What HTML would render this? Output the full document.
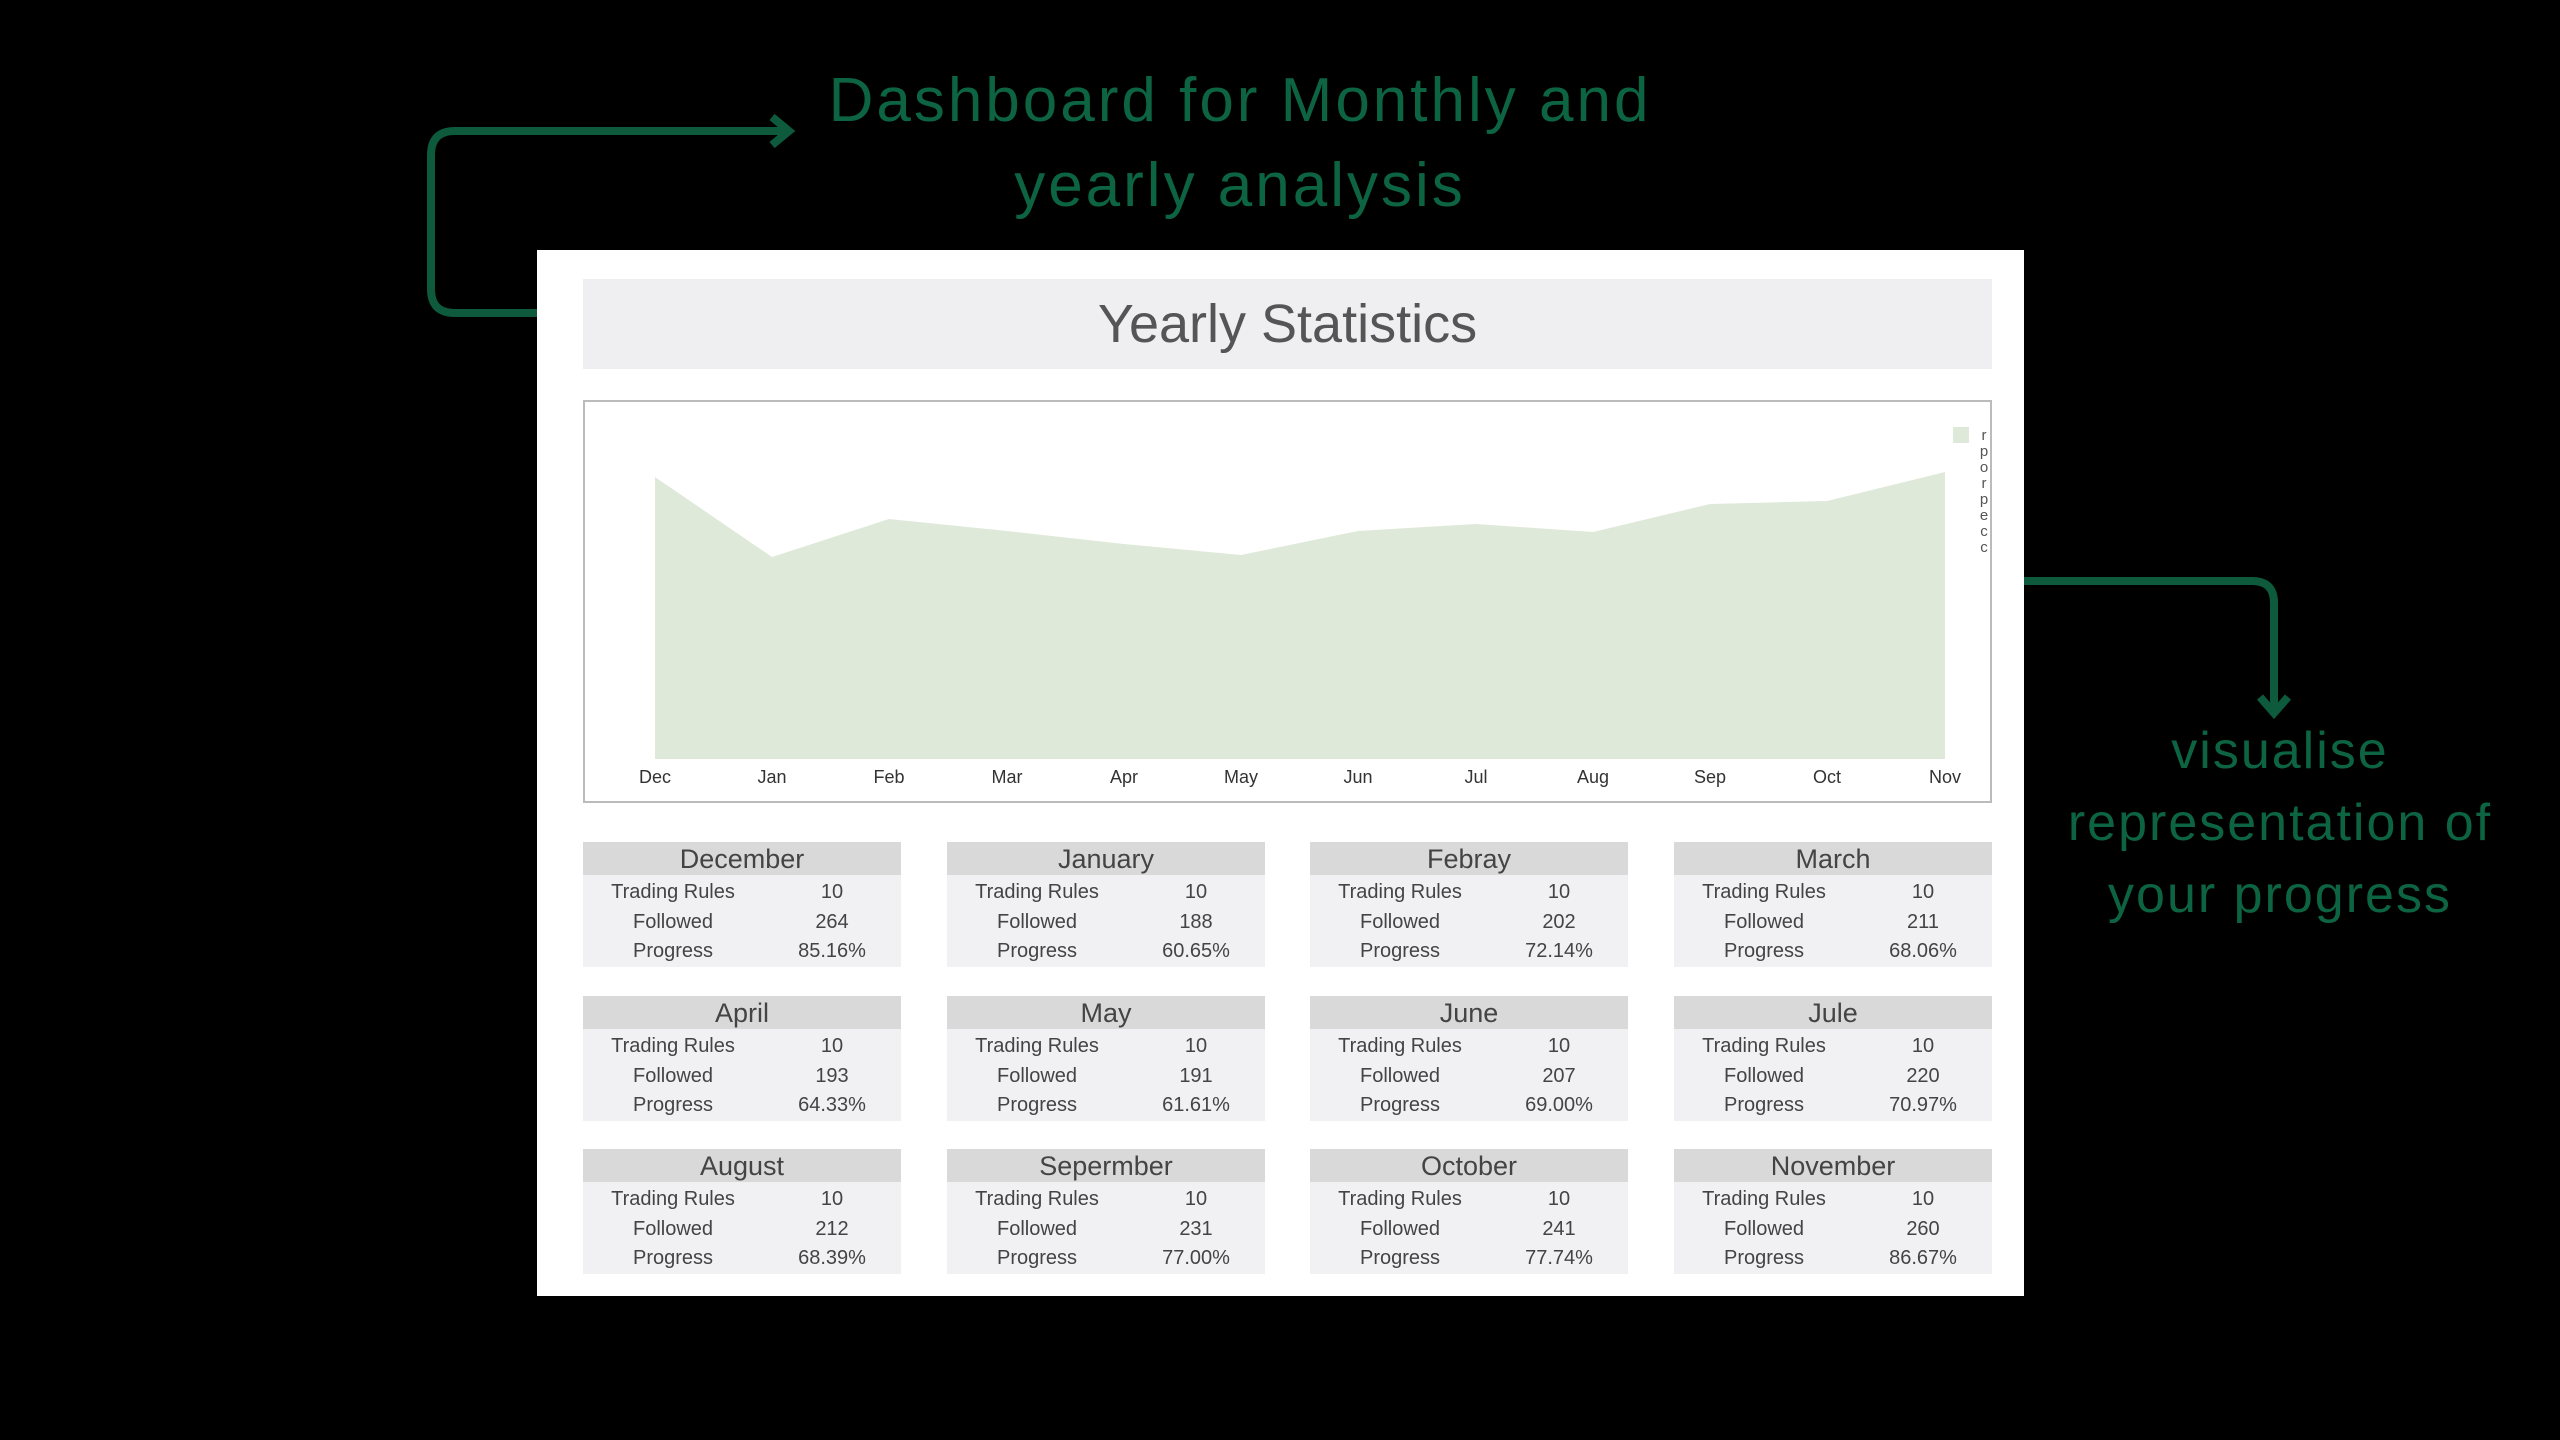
<!DOCTYPE html>
<html><head><meta charset="utf-8"><style>
body{margin:0;width:2560px;height:1440px;background:#000;position:relative;overflow:hidden;font-family:"Liberation Sans",sans-serif}
.abs{position:absolute}
.g{color:#0d6442;font-size:62px;text-align:center;line-height:85px;letter-spacing:3px}
.panel{left:537px;top:250px;width:1487px;height:1046px;background:#fff}
.title{left:583px;top:279px;width:1409px;height:90px;background:#efeef0;color:#555;font-size:54px;text-align:center;line-height:90px}
.chart{left:583px;top:400px;width:1405px;height:399px;border:2px solid #bbb;background:#fff}
.card{position:absolute;width:318px;height:125px;background:#f1f0f2;color:#444}
.card .h{height:33px;background:#d9d9d9;font-size:27px;text-align:center;line-height:35px;color:#444}
.card .r{position:relative;height:29.5px;font-size:20px}
.card .r span{position:absolute;top:6px;transform:translateX(-50%);white-space:nowrap}
</style></head><body>
<div class="abs g" style="left:640px;top:58px;width:1200px">Dashboard for Monthly and<br>yearly analysis</div>
<div class="abs g" style="left:1960px;top:715px;width:640px;font-size:52px;line-height:72px;letter-spacing:2px">visualise<br>representation of<br>your progress</div>
<svg class="abs" style="left:0;top:0" width="2560" height="1440">
<path d="M540 313 H455 Q431 313 431 289 V155 Q431 131 455 131 H786" fill="none" stroke="#0e5a3c" stroke-width="8"/>
<path d="M772 117 L789 131 L772 145" fill="none" stroke="#0e5a3c" stroke-width="8"/>
<path d="M2020 581 H2252 Q2274 581 2274 603 V710" fill="none" stroke="#0e5a3c" stroke-width="8"/>
<path d="M2260 697 L2274 713 L2288 697" fill="none" stroke="#0e5a3c" stroke-width="8"/>
</svg>
<div class="abs panel"></div>
<div class="abs title">Yearly Statistics</div>
<div class="abs chart"></div>
<svg class="abs" style="left:0;top:0" width="2560" height="1440">
<polygon fill="#dfe9d9" points="655,759 655,477 772,557 889,519 1007,531 1124,544 1241,555 1358,531 1476,524 1593,532 1710,504 1827,501 1945,472 1945,759"/>
<rect x="1953" y="427" width="16" height="16" fill="#dfe9d9"/>
<g font-size="18" fill="#333" text-anchor="middle" font-family="Liberation Sans">
<text x="655" y="783">Dec</text><text x="772" y="783">Jan</text><text x="889" y="783">Feb</text><text x="1007" y="783">Mar</text><text x="1124" y="783">Apr</text><text x="1241" y="783">May</text><text x="1358" y="783">Jun</text><text x="1476" y="783">Jul</text><text x="1593" y="783">Aug</text><text x="1710" y="783">Sep</text><text x="1827" y="783">Oct</text><text x="1945" y="783">Nov</text>
</g>
<g font-size="15" fill="#555" text-anchor="middle" font-family="Liberation Sans">
<text x="1984" y="440">r</text><text x="1984" y="456">p</text><text x="1984" y="472">o</text><text x="1984" y="488">r</text><text x="1984" y="504">p</text><text x="1984" y="520">e</text><text x="1984" y="536">c</text><text x="1984" y="552">c</text>
</g>
</svg>
<div id="cards"></div>
<script>
var d=[["December",264,"85.16%"],["January",188,"60.65%"],["Febray",202,"72.14%"],["March",211,"68.06%"],["April",193,"64.33%"],["May",191,"61.61%"],["June",207,"69.00%"],["Jule",220,"70.97%"],["August",212,"68.39%"],["Sepermber",231,"77.00%"],["October",241,"77.74%"],["November",260,"86.67%"]];
var xs=[583,947,1310,1674],ys=[842,996,1149],h="";
d.forEach(function(c,i){
h+='<div class="card" style="left:'+xs[i%4]+'px;top:'+ys[Math.floor(i/4)]+'px"><div class="h">'+c[0]+'</div>'+
'<div class="r"><span style="left:90px">Trading Rules</span><span style="left:249px">10</span></div>'+
'<div class="r"><span style="left:90px">Followed</span><span style="left:249px">'+c[1]+'</span></div>'+
'<div class="r"><span style="left:90px">Progress</span><span style="left:249px">'+c[2]+'</span></div></div>';});
document.getElementById("cards").innerHTML=h;
</script>
</body></html>
